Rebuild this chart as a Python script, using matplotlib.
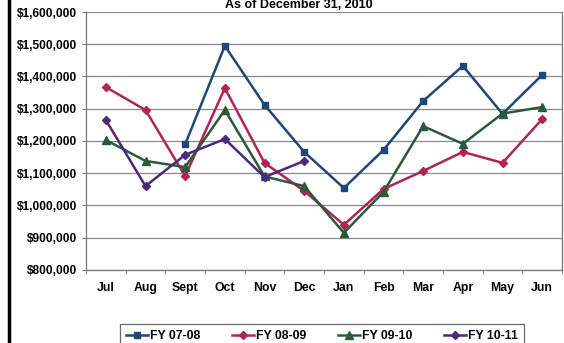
import numpy as np
import matplotlib.pyplot as plt
from matplotlib.ticker import FuncFormatter

plt.rcParams['font.family'] = ['Liberation Sans', 'DejaVu Sans']
plt.rcParams['font.weight'] = 'bold'

months = ["Jul", "Aug", "Sept", "Oct", "Nov", "Dec", "Jan", "Feb", "Mar", "Apr", "May", "Jun"]

fy0708 = [np.nan, np.nan, 1190000, 1495000, 1312000, 1166000, 1054000, 1172000, 1324000, 1433000, 1284000, 1405000]
fy0809 = [1367000, 1296000, 1091000, 1364000, 1132000, 1045000, 940000, 1051000, 1107000, 1166000, 1132000, 1268000]
fy0910 = [1203000, 1138000, 1119000, 1296000, 1090000, 1060000, 915000, 1042000, 1246000, 1191000, 1285000, 1305000]
fy1011 = [1265000, 1060000, 1157000, 1206000, 1088000, 1138000]

fig = plt.figure(figsize=(5.64, 3.43), dpi=100)
ax = fig.add_axes([0.1525, 0.213, 0.844, 0.752])

x = np.arange(len(months))
ax.plot(x, fy0708, '-s', color='#1f4777', lw=1.8, ms=5, label="FY 07-08")
ax.plot(x, fy0809, '-D', color='#b02553', lw=1.8, ms=4.5, label="FY 08-09")
ax.plot(x, fy0910, '-^', color='#2b5a3a', lw=1.8, ms=6, label="FY 09-10")
ax.plot(x[:len(fy1011)], fy1011, '-D', color='#4a2a7c', lw=1.8, ms=4.5, label="FY 10-11")

ax.set_ylim(800000, 1600000)
ax.set_yticks(np.arange(800000, 1600001, 100000))
ax.yaxis.set_major_formatter(FuncFormatter(lambda v, p: "${:,.0f}".format(v)))
ax.set_xlim(-0.5, 11.5)
ax.set_xticks(x)
ax.set_xticklabels(months)
ax.set_xticks(np.arange(-0.5, 12, 1), minor=True)
ax.tick_params(axis='x', which='major', length=0, pad=9, labelsize=8.8)
ax.tick_params(axis='x', which='minor', length=3, direction='out', color='#777')
ax.tick_params(axis='y', length=3, labelsize=8.6, color='#777')
ax.grid(True, axis='y', color='#8a8a8a', lw=0.9)
ax.spines['top'].set_visible(False)
for s in ['left', 'bottom', 'right']:
    ax.spines[s].set_color('#777')
    ax.spines[s].set_linewidth(0.9)

fig.text(0.53, 1 - 5.5 / 343, "As of December 31, 2010", ha='center', va='center', fontsize=9, weight='bold')

leg = fig.legend(loc='upper center', bbox_to_anchor=(0.571, 1 - 318 / 343), ncol=4,
                 fontsize=8.8, frameon=True, fancybox=False, handlelength=1.8,
                 handletextpad=0.15, columnspacing=2.6, borderpad=0.5)
leg.get_frame().set_edgecolor('#444')
leg.get_frame().set_linewidth(0.9)

fig.add_artist(plt.Line2D([0.016, 0.016], [0, 1], color='black', lw=2.5, transform=fig.transFigure))

fig.savefig("out.png", dpi=100)
